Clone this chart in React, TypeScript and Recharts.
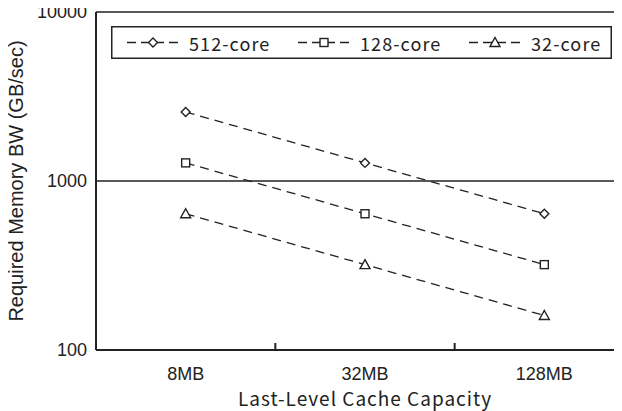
import React from 'react';
import { LineChart, Line, XAxis, YAxis, CartesianGrid, Legend, Label } from 'recharts';

const categories = ['8MB', '32MB', '128MB'];
const core512 = [2560, 1280, 640];
const core128 = [1280, 640, 320];
const core32 = [640, 320, 160];
const yTicks = [100, 1000, 10000];
const seriesNames = ['512-core', '128-core', '32-core'];
const seriesKeys = ['s512', 's128', 's32'];
const markerKinds = ['diamond', 'square', 'triangle'];
const yTitle = 'Required Memory BW (GB/sec)';
const xTitle = 'Last-Level Cache Capacity';

const data = categories.map((c, i) => ({
  idx: i,
  name: c,
  s512: core512[i],
  s128: core128[i],
  s32: core32[i],
}));

const INK = '#222';
const JP = '"Noto Sans CJK JP", "Noto Sans", sans-serif';
const SANS = '"Liberation Sans", Arial, sans-serif';

function marker(kind: string, cx: number, cy: number, key?: any) {
  if (kind === 'diamond') {
    return (
      <path key={key} d={`M${cx},${cy - 4.5}L${cx + 4.5},${cy}L${cx},${cy + 4.5}L${cx - 4.5},${cy}Z`}
        fill="#fff" stroke={INK} strokeWidth={1.4} />
    );
  }
  if (kind === 'square') {
    return <rect key={key} x={cx - 4} y={cy - 4} width={8} height={8} fill="#fff" stroke={INK} strokeWidth={1.4} />;
  }
  return (
    <path key={key} d={`M${cx},${cy - 5}L${cx + 5},${cy + 4}L${cx - 5},${cy + 4}Z`}
      fill="#fff" stroke={INK} strokeWidth={1.4} />
  );
}

const makeDot = (kind: string) => (props: any) => {
  const { cx, cy, index } = props;
  if (cx == null || cy == null) return <g key={index} />;
  return marker(kind, cx, cy, index);
};

const LegendBox = () => {
  const w = 501;
  const h = 33;
  const step = 171;
  return (
    <svg width={w} height={h} style={{ display: 'block' }}>
      <rect x={0.75} y={0.75} width={w - 1.5} height={h - 1.5} fill="#fff" stroke={INK} strokeWidth={1.5} />
      {seriesNames.map((n, i) => {
        const x0 = 16 + i * step;
        return (
          <g key={n}>
            <line x1={x0} y1={h / 2} x2={x0 + 54} y2={h / 2} stroke={INK} strokeWidth={1.4} strokeDasharray="9 5" />
            {marker(markerKinds[i], x0 + 26, h / 2)}
            <text x={x0 + 62} y={24.5} fontFamily={JP} fontSize={18} fill={INK} letterSpacing={1.1}>{n}</text>
          </g>
        );
      })}
    </svg>
  );
};

const YTitle = () => {
  const cx = 16;
  const cy = 181;
  return (
    <text x={cx} y={cy} transform={`rotate(-90 ${cx} ${cy})`} textAnchor="middle" dy="0.36em"
      fontFamily={SANS} fontSize={20} fill={INK}>{yTitle}</text>
  );
};

const EmptyTick = () => <g />;

export default function App() {
  return (
    <div style={{ margin: '-8px 0 0 -8px', width: 622, height: 411, overflow: 'hidden', position: 'relative', background: '#fff' }}>
      <LineChart width={640} height={411} data={data} margin={{ top: 12, right: 6, bottom: 0, left: 0 }}>
        <CartesianGrid vertical={false} stroke={INK} strokeWidth={1.5} />
        <XAxis dataKey="idx" type="number" domain={[-0.5, 2.5]} ticks={[0, 1, 2]}
          tickFormatter={(v: number) => categories[v]} tickLine={false} height={61}
          axisLine={{ stroke: INK, strokeWidth: 2 }} tickMargin={11}
          tick={{ fontFamily: SANS, fontSize: 18, fill: INK }} interval={0}>
          <Label value={xTitle} position="insideBottom" offset={5}
            style={{ fontFamily: JP, fontSize: 19, fill: INK, letterSpacing: 1 }} />
        </XAxis>
        <XAxis xAxisId="edges" dataKey="idx" type="number" domain={[-0.5, 2.5]} ticks={[0.5, 1.5]}
          mirror axisLine={false} tick={<EmptyTick />} tickSize={7} tickLine={{ stroke: INK, strokeWidth: 2 }}
          height={1} interval={0} />
        <YAxis scale="log" domain={[100, 10000]} ticks={yTicks} type="number" width={96}
          tickLine={false} axisLine={{ stroke: INK, strokeWidth: 2 }} tickMargin={3}
          tick={{ fontFamily: SANS, fontSize: 18, fill: INK }} allowDataOverflow>
          <Label content={<YTitle />} position="insideLeft" />
        </YAxis>
        <Legend layout="horizontal" verticalAlign="middle" align="center" content={<LegendBox />}
          wrapperStyle={{ left: 111, top: 26, width: 501, height: 33 }} />
        {seriesKeys.map((k, i) => (
          <Line key={k} dataKey={k} name={seriesNames[i]} stroke={INK} strokeWidth={1.3}
            strokeDasharray="9 6" dot={makeDot(markerKinds[i])} isAnimationActive={false} />
        ))}
      </LineChart>
    </div>
  );
}
